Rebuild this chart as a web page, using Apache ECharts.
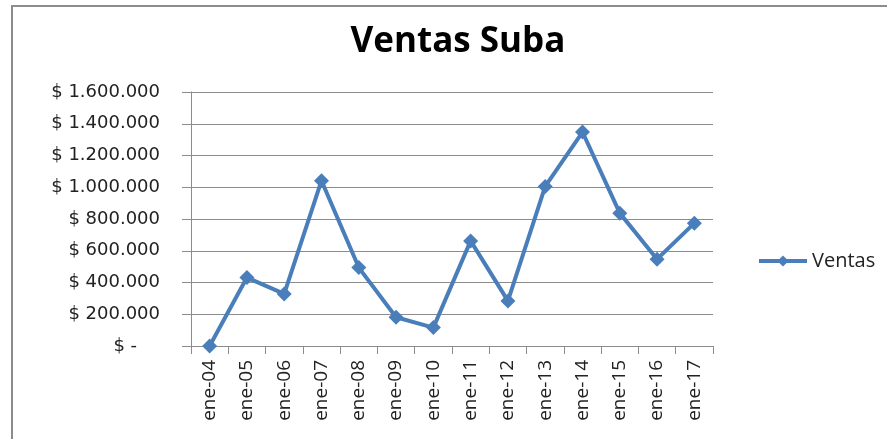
<!DOCTYPE html>
<html>
<head>
<meta charset="utf-8">
<script src="https://cdn.jsdelivr.net/npm/echarts@6/dist/echarts.min.js"></script>
<style>
  html, body { margin: 0; padding: 0; background: #fff; }
  #ventas { width: 887px; height: 439px; }
</style>
</head>
<body>
<div id="ventas"></div>
<script>
var meses = ['ene-04', 'ene-05', 'ene-06', 'ene-07', 'ene-08', 'ene-09', 'ene-10',
             'ene-11', 'ene-12', 'ene-13', 'ene-14', 'ene-15', 'ene-16', 'ene-17'];
var ventas = [0, 431000, 328000, 1041000, 494000, 181000, 116000,
              662000, 284000, 1005000, 1348000, 837000, 547000, 774000];

function pesos(v) {
    if (v === 0) return '$ -    ';
    return '$ ' + String(v).replace(/\B(?=(\d{3})+(?!\d))/g, '.');
}

var chart = echarts.init(document.getElementById('ventas'));
chart.setOption({
    animation: false,
    textStyle: { fontFamily: 'Open Sans' },
    title: {
        text: 'Ventas Suba',
        left: 453,
        top: 20,
        textAlign: 'center',
        textStyle: { fontSize: 35, fontWeight: 'bold', color: '#000', fontFamily: 'Open Sans' }
    },
    graphic: [{
        type: 'rect',
        shape: { x: 12, y: 6, width: 900, height: 460 },
        style: { fill: 'none', stroke: '#8c8c8c', lineWidth: 2 },
        silent: true
    }],
    legend: {
        data: ['Ventas'],
        left: 752,
        top: 246,
        itemWidth: 48,
        itemHeight: 14,
        itemGap: 4,
        lineStyle: { width: 4 },
        textStyle: { fontSize: 20, color: '#222' }
    },
    grid: { left: 191, right: 174, top: 92, bottom: 93 },
    xAxis: {
        type: 'category',
        data: meses,
        boundaryGap: true,
        axisLine: { lineStyle: { color: '#8c8c8c', width: 1 } },
        axisTick: { show: true, length: 8, lineStyle: { color: '#8c8c8c' } },
        axisLabel: { rotate: 90, fontSize: 19, color: '#222', margin: 14 }
    },
    yAxis: {
        type: 'value',
        min: 0,
        max: 1600000,
        interval: 200000,
        axisLine: { show: true, lineStyle: { color: '#8c8c8c', width: 1 } },
        axisTick: { show: true, length: 9, lineStyle: { color: '#8c8c8c' } },
        splitLine: { lineStyle: { color: '#8c8c8c', width: 1 } },
        axisLabel: { fontSize: 18, color: '#222', margin: 31, fontFamily: 'DejaVu Sans', formatter: pesos }
    },
    series: [{
        name: 'Ventas',
        type: 'line',
        data: ventas,
        symbol: 'diamond',
        symbolSize: 15,
        lineStyle: { width: 4, color: '#4a7ebb' },
        itemStyle: { color: '#4a7ebb' }
    }]
});
</script>
</body>
</html>
